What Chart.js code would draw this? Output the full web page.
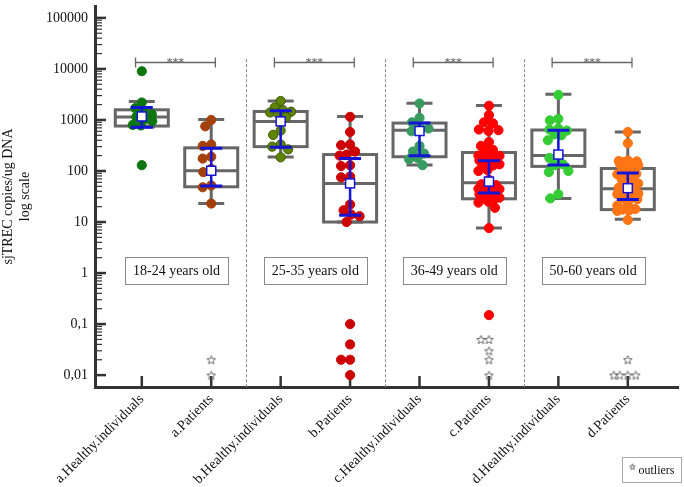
<!DOCTYPE html>
<html>
<head>
<meta charset="utf-8">
<script src="https://cdn.jsdelivr.net/npm/chart.js@4"></script>
<style>
  body { margin: 0; background: #fff; }
  canvas { display: block; }
</style>
</head>
<body>
<canvas id="chart" width="684" height="487"></canvas>
<script>
// categories and labels
const categories = ['a.Healthy.individuals', 'a.Patients', 'b.Healthy.individuals', 'b.Patients',
  'c.Healthy.individuals', 'c.Patients', 'd.Healthy.individuals', 'd.Patients'];
const ageGroups = ['18-24 years old', '25-35 years old', '36-49 years old', '50-60 years old'];
const yTickValues = [0.01, 0.1, 1, 10, 100, 1000, 10000, 100000];
const yTickLabels = ['0,01', '0,1', '1', '10', '100', '1000', '10000', '100000'];

// individual values per group (sjTREC copies/ug DNA)
const aHealthy = [9000, 2200, 1700, 1450, 1300, 1150, 1050, 950, 800, 780, 130];
const aPatients = [1000, 750, 330, 310, 190, 175, 110, 95, 52, 48, 23];
const bHealthy = [2350, 1750, 1550, 1450, 1400, 1350, 1150, 620, 510, 330, 300, 265, 185];
const bPatients = [1150, 580, 330, 320, 240, 210, 200, 130, 125, 78, 75, 22, 17, 14, 13, 10,
  0.1, 0.04, 0.02, 0.02, 0.01];
const cHealthy = [2100, 1100, 900, 700, 680, 600, 310, 240, 220, 180, 170, 130];
const cPatients = [1900, 1250, 900, 860, 650, 630, 610, 370, 310, 260, 250, 200, 198, 195, 165,
  162, 160, 158, 135, 132, 128, 105, 100, 67, 55, 53, 52, 46, 45, 44, 37, 36, 35, 34, 30, 29,
  28, 25, 24, 19, 7.6, 0.15];
const dHealthy = [3100, 1050, 980, 680, 650, 620, 520, 500, 400, 190, 180, 135, 130, 100, 95, 35, 29];
const dPatients = [580, 350, 160, 157, 154, 150, 140, 137, 134, 130, 113, 110, 88, 86, 84, 70, 68,
  57, 55, 47, 45, 37, 36, 35, 30, 29, 28, 22, 21, 18, 17.5, 17, 16.5, 11];
const groupValues = [aHealthy, aPatients, bHealthy, bPatients, cHealthy, cPatients, dHealthy, dPatients];

// outliers (stars)
const aOutliers = [0.02, 0.01];
const cOutliers = [0.05, 0.05, 0.03, 0.02, 0.01];
const dOutliers = [0.02, 0.01, 0.01, 0.01, 0.01];
const outlierValues = [[], aOutliers, [], [], [], cOutliers, [], dOutliers];

// box plot statistics
const whiskerLow = [730, 23, 187, 10, 131, 7.6, 29, 11.3];
const q1 = [760, 49, 300, 10, 190, 28.5, 123, 17.5];
const median = [1140, 101, 937, 57, 627, 59, 201, 45];
const q3 = [1580, 284, 1466, 210, 869, 230, 635, 112];
const whiskerHigh = [2300, 1025, 2360, 1170, 2130, 1920, 3180, 580];
// mean with error bar
const means = [1170, 101, 937, 57, 607, 62, 210, 46];
const errLow = [716, 51, 293, 13.5, 198, 37, 131, 27.7];
const errHigh = [1754, 280, 1507, 176, 869, 158, 627, 91];

const pointColors = ['#0f750f', '#a3400c', '#5f8500', '#cc0000', '#389c60', '#ff0000', '#35cc35', '#ff7414'];
const pointBorders = ['#0f750f', '#a3400c', '#3d5a00', '#cc0000', '#389c60', '#ff0000', '#35cc35', '#ff7414'];

const serif = "'Liberation Serif', 'Times New Roman', serif";

// little outline star used for outliers
function makeStar(size) {
  const c = document.createElement('canvas');
  c.width = size; c.height = size;
  const g = c.getContext('2d');
  const r = size / 2 - 1, ri = r * 0.45, cx = size / 2, cy = size / 2 + 0.5;
  g.beginPath();
  for (let i = 0; i < 10; i++) {
    const a = -Math.PI / 2 + i * Math.PI / 5;
    const rr = i % 2 ? ri : r;
    g.lineTo(cx + rr * Math.cos(a), cy + rr * Math.sin(a));
  }
  g.closePath();
  g.strokeStyle = '#666';
  g.lineWidth = 1;
  g.stroke();
  return c;
}
const starImg = makeStar(11);
const smallStar = makeStar(8);

const datasets = groupValues.map((vals, i) => ({
  data: vals.map(v => ({ x: i + 1, y: v })),
  backgroundColor: pointColors[i],
  borderColor: pointBorders[i],
  borderWidth: 1,
  pointRadius: 4.6,
  pointHoverRadius: 4.6
}));
const outlierData = [];
outlierValues.forEach((vals, i) => vals.forEach(v => outlierData.push({ x: i + 1, y: v, cat: i })));
datasets.push({
  data: outlierData,
  pointStyle: starImg,
  pointRadius: 5
});

// sideways spread: nearest free spot, limited width (overlap allowed when crowded)
function swarm(ys, minDist, maxOff) {
  const placed = [];
  const offs = new Array(ys.length);
  const cands = [0];
  for (let d = 0.5; d <= maxOff; d += 0.5) cands.push(-d, d);
  const order = ys.map((v, i) => i).sort((a, b) => ys[a] - ys[b]);
  order.forEach(i => {
    const y = ys[i];
    let best = 0, bestScore = -1;
    for (const c of cands) {
      let d = minDist;
      placed.forEach(p => { d = Math.min(d, Math.hypot(p.x - c, p.y - y)); });
      if (d > bestScore + 1e-6) { best = c; bestScore = d; }
      if (d >= minDist) break;
    }
    placed.push({ x: best, y });
    offs[i] = best;
  });
  return offs;
}

const decor = {
  id: 'decor',
  beforeDatasetsDraw(chart) {
    const { ctx, chartArea: area } = chart;
    const x = chart.scales.x, y = chart.scales.y;
    ctx.save();

    // y axis ticks (major + minor), drawn inward
    ctx.strokeStyle = '#333';
    for (let e = -2; e <= 5; e++) {
      for (let k = 1; k <= 9; k++) {
        const v = k * Math.pow(10, e);
        if (v > 100000) break;
        const py = y.getPixelForValue(v);
        ctx.lineWidth = k === 1 ? 2.5 : 1.2;
        ctx.beginPath();
        ctx.moveTo(area.left, py);
        ctx.lineTo(area.left + (k === 1 ? 11 : 7), py);
        ctx.stroke();
      }
    }
    // x axis ticks
    ctx.lineWidth = 2.5;
    categories.forEach((c, i) => {
      const px = x.getPixelForValue(i + 1);
      ctx.beginPath();
      ctx.moveTo(px, area.bottom);
      ctx.lineTo(px, area.bottom - 11);
      ctx.stroke();
    });

    // dashed separators between age groups
    ctx.strokeStyle = '#888';
    ctx.lineWidth = 1;
    ctx.setLineDash([3, 2]);
    [2.5, 4.5, 6.5].forEach(v => {
      const px = Math.round(x.getPixelForValue(v)) + 0.5;
      ctx.beginPath();
      ctx.moveTo(px, y.getPixelForValue(15500));
      ctx.lineTo(px, area.bottom);
      ctx.stroke();
    });
    ctx.setLineDash([]);

    // significance brackets and age labels
    ageGroups.forEach((label, g) => {
      const x1 = x.getPixelForValue(2 * g + 1 - 0.09);
      const x2 = x.getPixelForValue(2 * g + 2 + 0.06);
      const by = Math.round(y.getPixelForValue(13800)) + 0.5;
      ctx.strokeStyle = '#666';
      ctx.lineWidth = 1.3;
      ctx.beginPath();
      ctx.moveTo(x1, by); ctx.lineTo(x2, by);
      ctx.moveTo(x1, by - 5); ctx.lineTo(x1, by + 5);
      ctx.moveTo(x2, by - 5); ctx.lineTo(x2, by + 5);
      ctx.stroke();
      ctx.fillStyle = '#777';
      ctx.font = 'bold 11px "DejaVu Sans", sans-serif';
      ctx.textAlign = 'center';
      ctx.textBaseline = 'middle';
      ctx.fillText('***', (x1 + x2) / 2, by + 1);

      const cx = x.getPixelForValue(2 * g + 1.5);
      const cy = y.getPixelForValue(1.12);
      ctx.fillStyle = '#fff';
      ctx.fillRect(cx - 51.5, cy - 13.5, 103, 27);
      ctx.strokeStyle = '#8a8a8a';
      ctx.lineWidth = 1;
      ctx.strokeRect(Math.round(cx - 51.5) + 0.5, Math.round(cy - 13.5) + 0.5, 103, 27);
      ctx.fillStyle = '#111';
      ctx.font = '14px ' + serif;
      ctx.fillText(label, cx, cy + 1);
    });

    // box plots
    ctx.strokeStyle = '#666';
    ctx.lineWidth = 3;
    categories.forEach((c, i) => {
      const cx = x.getPixelForValue(i + 1);
      const yq1 = y.getPixelForValue(q1[i]), yq3 = y.getPixelForValue(q3[i]);
      const ymed = y.getPixelForValue(median[i]);
      const ylo = y.getPixelForValue(whiskerLow[i]), yhi = y.getPixelForValue(whiskerHigh[i]);
      ctx.beginPath();
      ctx.moveTo(cx, yq3); ctx.lineTo(cx, yhi);
      ctx.moveTo(cx, yq1); ctx.lineTo(cx, ylo);
      ctx.moveTo(cx - 13, yhi); ctx.lineTo(cx + 13, yhi);
      ctx.moveTo(cx - 13, ylo); ctx.lineTo(cx + 13, ylo);
      ctx.moveTo(cx - 26.5, ymed); ctx.lineTo(cx + 26.5, ymed);
      ctx.stroke();
      ctx.strokeRect(cx - 26.5, yq3, 53, yq1 - yq3);
    });
    ctx.restore();
  },
  afterDatasetsDraw(chart) {
    const { ctx } = chart;
    const x = chart.scales.x, y = chart.scales.y;
    ctx.save();
    ctx.strokeStyle = '#1414d6';
    categories.forEach((c, i) => {
      const cx = x.getPixelForValue(i + 1);
      const ylo = y.getPixelForValue(errLow[i]), yhi = y.getPixelForValue(errHigh[i]);
      const ym = y.getPixelForValue(means[i]);
      ctx.lineWidth = 2.5;
      ctx.beginPath();
      ctx.moveTo(cx, ylo); ctx.lineTo(cx, yhi);
      ctx.stroke();
      ctx.lineWidth = 3;
      ctx.beginPath();
      ctx.moveTo(cx - 11, ylo); ctx.lineTo(cx + 11, ylo);
      ctx.moveTo(cx - 11, yhi); ctx.lineTo(cx + 11, yhi);
      ctx.stroke();
      ctx.fillStyle = '#fff';
      ctx.lineWidth = 1.5;
      ctx.fillRect(cx - 4.5, ym - 4.5, 9, 9);
      ctx.strokeRect(cx - 4.5, ym - 4.5, 9, 9);
    });
    ctx.restore();
  },
  afterDraw(chart) {
    const { ctx } = chart;
    ctx.save();
    // outliers legend
    const bx = 622.5, by = 457.5, bw = 59, bh = 25;
    ctx.strokeStyle = '#aaa';
    ctx.lineWidth = 1;
    ctx.strokeRect(bx, by, bw, bh);
    ctx.drawImage(smallStar, bx + 6, by + 5);
    ctx.fillStyle = '#111';
    ctx.font = '12px ' + serif;
    ctx.textAlign = 'left';
    ctx.textBaseline = 'middle';
    ctx.fillText('outliers', bx + 16, by + bh / 2 + 1);
    ctx.restore();
  }
};

const chart = new Chart(document.getElementById('chart'), {
  type: 'scatter',
  data: { datasets },
  options: {
    responsive: false,
    animation: false,
    events: [],
    layout: { padding: { top: 3, right: 0, bottom: 0, left: 0 } },
    plugins: { legend: { display: false }, tooltip: { enabled: false } },
    scales: {
      x: {
        type: 'linear',
        min: 0.326,
        max: 8.723,
        grid: { display: false, drawTicks: false },
        border: { color: '#333', width: 3 },
        afterBuildTicks: s => { s.ticks = categories.map((c, i) => ({ value: i + 1 })); },
        afterFit: s => { s.height = 100; s.paddingLeft = 0; s.paddingRight = 0; },
        ticks: {
          autoSkip: false,
          minRotation: 45,
          maxRotation: 45,
          padding: 4,
          color: '#111',
          font: { family: serif, size: 14 },
          callback: (v, i) => categories[i]
        }
      },
      y: {
        type: 'logarithmic',
        min: Math.pow(10, -2.233),
        max: Math.pow(10, 5.233),
        grid: { display: false, drawTicks: false },
        border: { color: '#333', width: 3 },
        afterBuildTicks: s => { s.ticks = yTickValues.map(v => ({ value: v })); },
        afterFit: s => { s.width = 95; s.paddingTop = 0; s.paddingBottom = 0; },
        ticks: {
          padding: 7,
          color: '#111',
          font: { family: serif, size: 14 },
          callback: (v, i) => yTickLabels[i]
        },
        title: {
          display: true,
          text: ['sjTREC copies/ug DNA', 'log scale'],
          color: '#111',
          font: { family: serif, size: 14, lineHeight: 1.2 },
          padding: { top: 0, bottom: 0 }
        }
      }
    }
  },
  plugins: [decor]
});

// spread the points sideways (beeswarm) using the chart's own scales
const xs = chart.scales.x, ys = chart.scales.y;
const pxPerUnit = xs.getPixelForValue(2) - xs.getPixelForValue(1);
groupValues.forEach((vals, i) => {
  const offs = swarm(vals.map(v => ys.getPixelForValue(v)), 8.6, 10.5);
  chart.data.datasets[i].data = vals.map((v, k) => ({ x: i + 1 + offs[k] / pxPerUnit, y: v }));
});
outlierValues.forEach((vals, i) => {
  if (!vals.length) return;
  const offs = swarm(vals.map(v => ys.getPixelForValue(v)), 8, 14);
  let k = 0;
  outlierData.forEach(p => { if (p.cat === i) { p.x = i + 1 + offs[k++] / pxPerUnit; } });
});
chart.update('none');
</script>
</body>
</html>
